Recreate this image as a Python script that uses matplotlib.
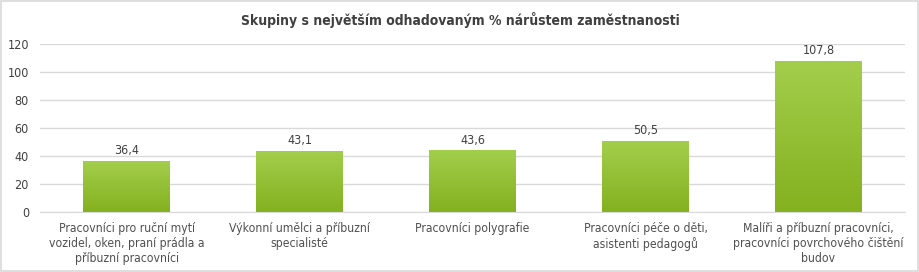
import numpy as np
import matplotlib
matplotlib.use("Agg")
import matplotlib.pyplot as plt
from matplotlib.colors import LinearSegmentedColormap
from matplotlib.patches import Rectangle

plt.rcParams['font.family'] = ['DejaVu Sans']
plt.rcParams['font.stretch'] = 'condensed'

title = "Skupiny s největším odhadovaným % nárůstem zaměstnanosti"
categories = [
    "Pracovníci pro ruční mytí\nvozidel, oken, praní prádla a\npříbuzní pracovníci",
    "Výkonní umělci a příbuzní\nspecialisté",
    "Pracovníci polygrafie",
    "Pracovníci péče o děti,\nasistenti pedagogů",
    "Malíři a příbuzní pracovníci,\npracovníci povrchového čištění\nbudov",
]
values = [36.4, 43.1, 43.6, 50.5, 107.8]
yticks = [0, 20, 40, 60, 80, 100, 120]

txt = "#404040"
fig = plt.figure(figsize=(9.2, 2.72), dpi=100)
fig.patches.append(Rectangle((0.001, 0.002), 0.997, 0.995, transform=fig.transFigure,
                             fill=False, edgecolor="#d9d9d9", linewidth=1.2))
ax = fig.add_axes([0.0435, 0.2206, 0.9402, 0.6176])

x = np.arange(len(values))
bars = ax.bar(x, values, width=0.5, color="none", zorder=3)
cmap = LinearSegmentedColormap.from_list("g", ["#84b11f", "#a2ce4c"])
grad = np.linspace(0, 1, 100).reshape(-1, 1)
for b in bars:
    x0, w, h = b.get_x(), b.get_width(), b.get_height()
    ax.imshow(grad, cmap=cmap, origin="lower", aspect="auto",
              extent=(x0, x0 + w, 0, h), zorder=3)
    ax.annotate(f"{h:.1f}".replace(".", ","), (x0 + w / 2, h),
                xytext=(0, 3), textcoords="offset points",
                ha="center", va="bottom", fontsize=9, color=txt)

ax.set_xlim(-0.5, len(values) - 0.5)
ax.set_ylim(0, 120)
ax.set_yticks(yticks)
ax.set_yticklabels([str(t) for t in yticks], fontsize=9, color=txt)
ax.set_xticks(x)
ax.set_xticklabels(categories, fontsize=8.7, color="#505050", linespacing=1.2)
ax.tick_params(length=0, pad=7)
ax.tick_params(axis="y", pad=8)
ax.grid(axis="y", color="#d9d9d9", linewidth=1, zorder=0)
for s in ["top", "right", "left"]:
    ax.spines[s].set_visible(False)
ax.spines["bottom"].set_color("#d9d9d9")
ax.spines["bottom"].set_zorder(4)

fig.text(0.5, 0.925, title, ha="center", va="center", fontsize=10,
         fontweight="bold", color=txt)

fig.savefig("out.png", dpi=100)
